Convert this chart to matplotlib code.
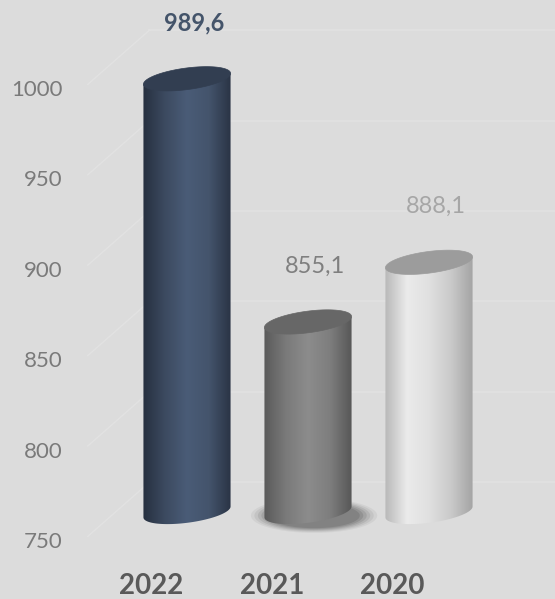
import numpy as np
import matplotlib
matplotlib.use("Agg")
import matplotlib.pyplot as plt
from matplotlib.colors import LinearSegmentedColormap
from matplotlib.patches import Polygon

# ── Data ──────────────────────────────────────────────────────────────────────
years  = ["2022", "2021", "2020"]
values = [989.6, 855.1, 888.1]
labels = ["989,6", "855,1", "888,1"]
yticks = [750, 800, 850, 900, 950, 1000]

# ── Style ─────────────────────────────────────────────────────────────────────
BG        = "#dcdcdc"
GRID      = "#e2e2e2"
BASE      = 750
LIFT      = 15.5      # vertical projection offset of the bars (value units)
WALL      = 32        # back-wall gridlines sit this far above their tick
HALF_W    = 0.36      # cylinder half width (category units)
CAP_B     = 6.0       # half height of elliptical caps (value units)
CAP_TILT  = 3.0       # caps rise slightly to the right

body_cols = [
    ["#26303f", "#3c4a60", "#4a5c77", "#44546c", "#2a3445"],
    ["#5a5a5a", "#7a7a7a", "#8c8c8c", "#7e7e7e", "#575757"],
    ["#b8b8b8", "#ebebeb", "#e0e0e0", "#cacaca", "#a4a4a4"],
]
cap_cols   = ["#323e51", "#676767", "#9c9c9c"]
label_cols = ["#44546a", "#7f7f7f", "#a6a6a6"]
label_wts  = ["bold", "normal", "normal"]

plt.rcParams["font.family"] = ["Lato", "DejaVu Sans"]

fig = plt.figure(figsize=(5.55, 5.99), dpi=100, facecolor=BG)
ax = fig.add_axes([72 / 555, 39 / 599, 1 - 72 / 555, 560 / 599])
ax.set_facecolor(BG)

XLIM = ((72 - 187) / 121, (555 - 187) / 121)
YLIM = (750 - 20 / 1.808, 1000 + 88 / 1.808)

# ── Walls / gridlines ─────────────────────────────────────────────────────────
for t in yticks:
    ax.plot([-0.82, -0.31], [t + 2, t + WALL], color=GRID, lw=1.0, zorder=0)
    ax.plot([-0.31, XLIM[1]], [t + WALL, t + WALL], color=GRID, lw=1.2, zorder=0)


def ellipse(xc, yc, t):
    return np.column_stack([xc + HALF_W * np.cos(t),
                            yc + CAP_B * np.sin(t) + CAP_TILT * np.cos(t)])


# ── Cylinders ─────────────────────────────────────────────────────────────────
for i, v in enumerate(values):
    yb, yt = BASE + LIFT, v + LIFT

    if i == 1:
        # soft floor shadow
        for k, a in zip(np.linspace(1.45, 1.05, 6), [0.06, 0.08, 0.10, 0.12, 0.14, 0.16]):
            t = np.linspace(0, 2 * np.pi, 100)
            pts = np.column_stack([i + 0.05 + HALF_W * k * np.cos(t),
                                   yb - 2 + CAP_B * k * 1.1 * np.sin(t)])
            ax.add_patch(Polygon(pts, closed=True, fc="#303030", ec="none",
                                 alpha=a, zorder=1))

    tb = np.linspace(np.pi, 2 * np.pi, 80)
    bottom = ellipse(i, yb, tb)
    body = np.vstack([[i - HALF_W, yt - CAP_TILT], bottom,
                      [i + HALF_W, yt + CAP_TILT]])
    clip = Polygon(body, closed=True, fc="none", ec="none")
    ax.add_patch(clip)
    cmap = LinearSegmentedColormap.from_list(f"cyl{i}", body_cols[i])
    grad = np.linspace(0, 1, 256)[None, :]
    im = ax.imshow(grad, cmap=cmap, aspect="auto", interpolation="bicubic",
                   extent=[i - HALF_W, i + HALF_W, yb - CAP_B - CAP_TILT - 1,
                           yt + CAP_TILT + 1], zorder=2)
    im.set_clip_path(clip)

    tt = np.linspace(0, 2 * np.pi, 160)
    ax.add_patch(Polygon(ellipse(i, yt, tt), closed=True, fc=cap_cols[i],
                         ec=cap_cols[i], lw=0.5, zorder=3))

    ax.text(i + 0.06, yt + 31, labels[i], ha="center", va="center",
            fontsize=17, fontweight=label_wts[i], color=label_cols[i], zorder=4)

# ── Axes ──────────────────────────────────────────────────────────────────────
ax.set_xlim(*XLIM)
ax.set_ylim(*YLIM)
ax.set_yticks(yticks)
ax.set_yticklabels([str(t) for t in yticks], fontsize=16, color="#7a7a7a")
ax.set_xticks(np.arange(len(years)) - 0.3)
ax.set_xticklabels(years, fontsize=20, fontweight="bold", color="#595959")
ax.tick_params(axis="y", length=0, pad=7)
ax.tick_params(axis="x", length=0, pad=9)
for s in ax.spines.values():
    s.set_visible(False)

fig.savefig("out.png", dpi=100, facecolor=BG)
